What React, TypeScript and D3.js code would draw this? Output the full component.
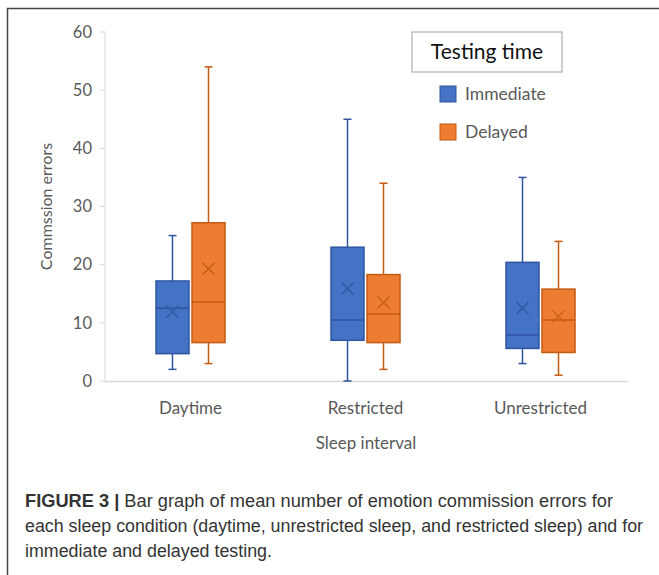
import React from 'react';
import * as d3 from 'd3';

const categories = ['Daytime', 'Restricted', 'Unrestricted'];
const series = ['Immediate', 'Delayed'];
const yTicks = [0, 10, 20, 30, 40, 50, 60];

// [min, q1, median, q3, max, mean] per category, per series
const immediate = [
  [2, 4.7, 12.5, 17.2, 25, 11.9],
  [0, 7.0, 10.5, 23.0, 45, 15.9],
  [3, 5.6, 7.9, 20.4, 35, 12.5],
];
const delayed = [
  [3, 6.6, 13.6, 27.2, 54, 19.3],
  [2, 6.6, 11.5, 18.3, 34, 13.5],
  [1, 4.9, 10.5, 15.8, 24, 11.1],
];

const fills = ['#4472C4', '#ED7D31'];
const strokes = ['#2F55A0', '#C55A11'];
const font = 'Lato, "Open Sans", sans-serif';

const App = () => {
  const y = d3.scaleLinear().domain([0, 60]).range([381, 32]);
  const x0 = d3.scaleBand().domain(categories).range([103, 628]);
  const x1 = d3.scaleBand().domain(series).range([-34.5, 34.5]).paddingInner(0.0833);
  const bw = x1.bandwidth();
  const data = [immediate, delayed];

  return (
    <div style={{ position: 'absolute', left: 0, top: 0 }}>
      <svg width={659} height={575} style={{ display: 'block' }}>
        <rect x={0} y={0} width={659} height={575} fill="#fff" />
        {/* figure frame */}
        <path d="M7.5,575 V8.5 H659" fill="none" stroke="#444" strokeWidth={1.5} />

        {/* y axis */}
        <line x1={105} x2={105} y1={y(0)} y2={y(60)} stroke="#d9d9d9" />
        {yTicks.map(t => (
          <g key={t}>
            <line x1={100} x2={105} y1={y(t)} y2={y(t)} stroke="#d9d9d9" />
            <text x={92} y={y(t)} dy="0.35em" textAnchor="end" fontSize={16.5}
              fill="#595959" fontFamily={font}>{t}</text>
          </g>
        ))}
        <text transform={`translate(52,${(y(0) + y(60)) / 2}) rotate(-90)`} textAnchor="middle"
          fontSize={16} fill="#595959" fontFamily={font}>Commssion errors</text>

        {/* x axis */}
        <line x1={105} x2={628} y1={y(0) + 0.5} y2={y(0) + 0.5} stroke="#d9d9d9" strokeWidth={1.5} />
        {categories.map(c => (
          <text key={c} x={x0(c)! + x0.bandwidth() / 2} y={414} textAnchor="middle"
            fontSize={17} fill="#595959" fontFamily={font}>{c}</text>
        ))}
        <text x={366} y={449} textAnchor="middle" fontSize={17} fill="#595959"
          fontFamily={font}>Sleep interval</text>

        {/* boxes */}
        {categories.map((c, ci) =>
          series.map((s, si) => {
            const [mn, q1, med, q3, mx, mean] = data[si][ci];
            const left = x0(c)! + x0.bandwidth() / 2 + x1(s)!;
            const cx = left + bw / 2;
            return (
              <g key={c + s} stroke={strokes[si]} strokeWidth={1.5}>
                <line x1={cx} x2={cx} y1={y(mx)} y2={y(q3)} />
                <line x1={cx} x2={cx} y1={y(q1)} y2={y(mn)} />
                <line x1={cx - 4} x2={cx + 4} y1={y(mx)} y2={y(mx)} />
                <line x1={cx - 4} x2={cx + 4} y1={y(mn)} y2={y(mn)} />
                <rect x={left} y={y(q3)} width={bw} height={y(q1) - y(q3)} fill={fills[si]} />
                <line x1={left} x2={left + bw} y1={y(med)} y2={y(med)} />
                <path d={`M${cx - 6},${y(mean) - 6}L${cx + 6},${y(mean) + 6}M${cx - 6},${y(mean) + 6}L${cx + 6},${y(mean) - 6}`}
                  strokeWidth={1.2} />
              </g>
            );
          })
        )}

        {/* legend */}
        <rect x={412} y={32} width={150} height={40} fill="#fff" stroke="#bfbfbf" strokeWidth={1.5} />
        <text x={487} y={59} textAnchor="middle" fontSize={21} fill="#111" fontFamily={font}>Testing time</text>
        {series.map((s, i) => (
          <g key={s} transform={`translate(440,${86 + i * 38})`}>
            <rect width={16} height={16} fill={fills[i]} stroke={strokes[i]} />
            <text x={25} y={8} dy="0.36em" fontSize={17.5} fill="#595959" fontFamily={font}>{s}</text>
          </g>
        ))}

        {/* caption */}
        <g fontFamily='"Liberation Sans", Arial, sans-serif' fontSize={17.5} fill="#333">
          <text x={25} y={507} textLength={588} lengthAdjust="spacingAndGlyphs">
            <tspan fontWeight="bold">FIGURE 3 | </tspan>
            Bar graph of mean number of emotion commission errors for
          </text>
          <text x={25} y={532} textLength={618} lengthAdjust="spacingAndGlyphs">
            each sleep condition (daytime, unrestricted sleep, and restricted sleep) and for
          </text>
          <text x={25} y={557} textLength={247} lengthAdjust="spacingAndGlyphs">immediate and delayed testing.</text>
        </g>
      </svg>
    </div>
  );
};

export default App;
